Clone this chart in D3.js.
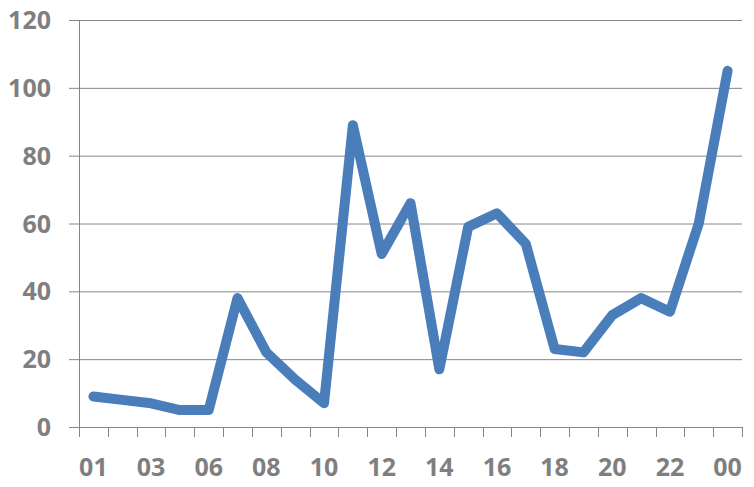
<!DOCTYPE html>
<html><head><meta charset="utf-8">
<script src="https://cdn.jsdelivr.net/npm/d3@7"></script>
<style>body{margin:0;background:#fff}svg{display:block}</style>
</head><body>
<script>
const categories = ["01","02","03","05","06","07","08","09","10","11","12","13","14","15","16","17","18","19","20","21","22","23","00"];
const values = [9,8,7,5,5,38,22,14,7,89,51,66,17,59,63,54,23,22,33,38,34,60,105];
const yTicks = [0,20,40,60,80,100,120];

const W = 754, H = 487;
const m = {left:79, right:12, top:20, bottom:60};
const svg = d3.select("body").append("svg").attr("width",W).attr("height",H);
const x = d3.scaleBand().domain(categories).range([m.left, W-m.right]);
const y = d3.scaleLinear().domain([0,120]).range([H-m.bottom, m.top]);
const grey = "#868686", txt = "#7f7f7f";
const font = "'Open Sans', sans-serif";

// gridlines
svg.append("g").selectAll("line").data(yTicks.filter(d=>d>0)).join("line")
  .attr("x1", m.left-10).attr("x2", W-m.right)
  .attr("y1", d=>y(d)+0.5).attr("y2", d=>y(d)+0.5)
  .attr("stroke", grey).attr("stroke-width",1);

// y axis line + tick labels
svg.append("line").attr("x1",m.left+0.5).attr("x2",m.left+0.5)
  .attr("y1",y(120)).attr("y2",y(0)).attr("stroke",grey);
svg.append("g").selectAll("text").data(yTicks).join("text")
  .attr("x", 51).attr("y", d=>y(d)+9)
  .attr("text-anchor","end").attr("font-family",font).attr("font-weight",700)
  .attr("font-size",25).attr("fill",txt).text(d=>d);

// x axis
svg.append("line").attr("x1",m.left-10).attr("x2",W-m.right)
  .attr("y1",y(0)+0.5).attr("y2",y(0)+0.5).attr("stroke",grey);
const bounds = categories.map(c=>x(c)).concat([x.range()[1]]);
svg.append("g").selectAll("line").data(bounds).join("line")
  .attr("x1", d=>Math.round(d)+0.5).attr("x2", d=>Math.round(d)+0.5)
  .attr("y1", y(0)).attr("y2", y(0)+10).attr("stroke",grey);
svg.append("g").selectAll("text").data(categories.filter((c,i)=>i%2===0)).join("text")
  .attr("x", d=>x(d)+x.bandwidth()/2).attr("y", 476)
  .attr("text-anchor","middle").attr("font-family",font).attr("font-weight",700)
  .attr("font-size",25).attr("fill",txt).text(d=>d);

// line
const line = d3.line().x((d,i)=>x(categories[i])+x.bandwidth()/2).y(d=>y(d));
svg.append("path").datum(values).attr("d",line)
  .attr("fill","none").attr("stroke","#4a7ebb").attr("stroke-width",10)
  .attr("stroke-linejoin","round").attr("stroke-linecap","round");
</script>
</body></html>
